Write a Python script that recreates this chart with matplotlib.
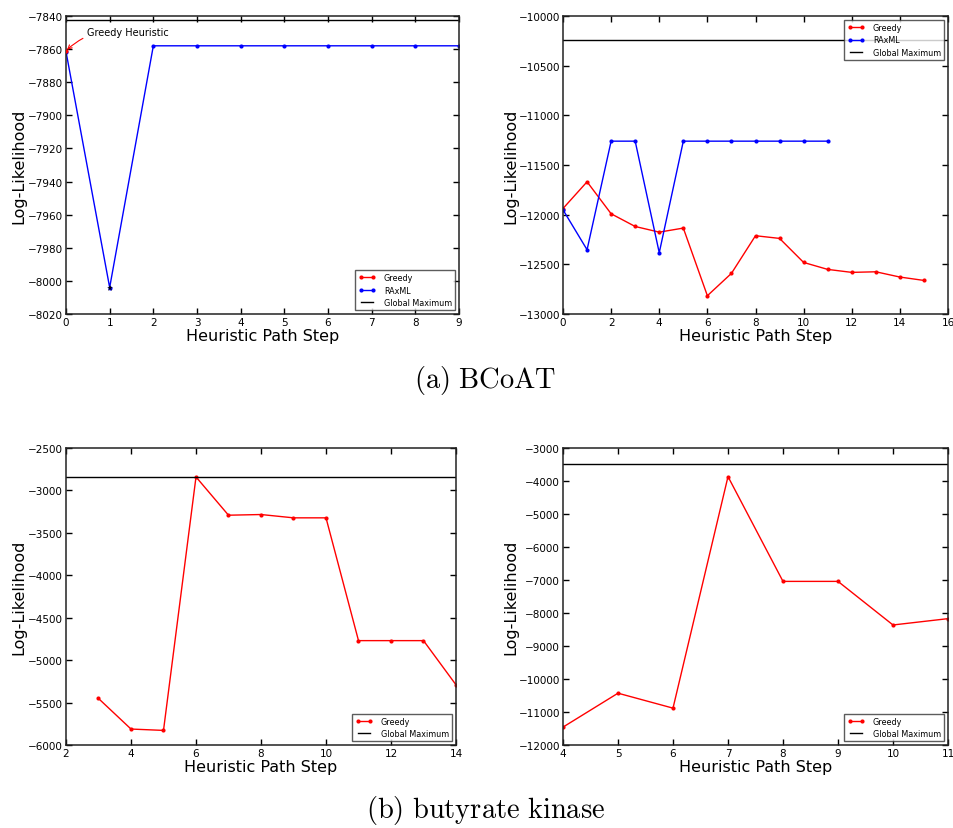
import matplotlib
matplotlib.use('Agg')
import matplotlib.pyplot as plt

plt.rcParams['mathtext.fontset'] = 'cm'
plt.rcParams['font.family'] = 'DejaVu Sans'

# BCoAT, first run
a1_greedy_x = [0]
a1_greedy_y = [-7861]
a1_raxml_x = [0, 1, 2, 3, 4, 5, 6, 7, 8, 9]
a1_raxml_y = [-7861.5, -8004, -7858, -7858, -7858, -7858, -7858, -7858, -7858, -7858]
a1_best = -7842.6
a1_star = (1, -8004)

# BCoAT, second run
a2_greedy_x = list(range(16))
a2_greedy_y = [-11938, -11669, -11991, -12119, -12176, -12135, -12816, -12591,
               -12212, -12239, -12481, -12551, -12581, -12575, -12628, -12662]
a2_raxml_x = list(range(12))
a2_raxml_y = [-11951, -12353, -11260, -11260, -12383, -11260, -11260, -11260,
              -11260, -11260, -11260, -11260]
a2_best = -10245

# butyrate kinase, first run
b1_greedy_x = [3, 4, 5, 6, 7, 8, 9, 10, 11, 12, 13, 14]
b1_greedy_y = [-5452, -5812, -5828, -2841, -3292, -3284, -3323, -3323,
               -4770, -4770, -4770, -5291]
b1_best = -2841

# butyrate kinase, second run
b2_greedy_x = [4, 5, 6, 7, 8, 9, 10, 11]
b2_greedy_y = [-11458, -10430, -10883, -3867, -7042, -7042, -8363, -8171]
b2_best = -3494

W, H = 954, 829
fig = plt.figure(figsize=(W / 100, H / 100), dpi=100)


def box(l, t, r, b):
    return [l / W, 1 - b / H, (r - l) / W, (b - t) / H]


def style(ax, xlim, ylim, xticks, yticks, label_x):
    ax.set_xlim(*xlim)
    ax.set_ylim(*ylim)
    ax.set_xticks(xticks)
    ax.set_yticks(yticks)
    ax.tick_params(direction='in', top=True, right=True, length=4, width=1,
                   labelsize=7.5, pad=2)
    ax.set_yticklabels([f'\u2212{abs(v)}' for v in yticks])
    for s in ax.spines.values():
        s.set_linewidth(1.1)
        s.set_color('#222222')
    ax.set_xlabel('Heuristic Path Step', fontsize=11.5, labelpad=1)
    ax.set_ylabel('Log-Likelihood', fontsize=11.5)
    ax.yaxis.set_label_coords(label_x, 0.5)


def legend(ax, loc, handles=None, labels=None):
    if handles is None:
        handles, labels = ax.get_legend_handles_labels()
    leg = ax.legend(handles, labels, loc=loc, fontsize=5.8, numpoints=2,
                    fancybox=False, handlelength=2.2, borderpad=0.35,
                    labelspacing=0.45, borderaxespad=0.5, handletextpad=1.0)
    leg.get_frame().set_edgecolor('#333333')
    leg.get_frame().set_linewidth(1.0)


lw = 1.0
ms = 3

# (a) left
ax = fig.add_axes(box(66, 17, 459, 315))
best_line = ax.axhline(a1_best, color='k', lw=lw, zorder=1)
g_line, = ax.plot(a1_greedy_x, a1_greedy_y, 'r-o', lw=lw, ms=ms, mew=0, zorder=3)
r_line, = ax.plot(a1_raxml_x, a1_raxml_y, 'b-o', lw=lw, ms=ms, mew=0, zorder=2)
ax.plot([a1_star[0]], [a1_star[1]], 'k*', ms=5, mew=0, zorder=4)
ax.annotate('Greedy Heuristic', xy=(0, a1_greedy_y[0]), xytext=(0.48, -7849.5),
            fontsize=7, va='center', ha='left',
            arrowprops=dict(arrowstyle='->', color='r', lw=0.8,
                            shrinkA=1, shrinkB=1,
                            connectionstyle='arc3,rad=0.25'))
style(ax, (0, 9), (-8020, -7840), range(10), list(range(-8020, -7839, 20)), -0.102)
legend(ax, 'lower right', [g_line, r_line, best_line],
       ['Greedy', 'RAxML', 'Global Maximum'])

# (a) right
ax = fig.add_axes(box(563, 17, 948, 315))
ax.plot(a2_greedy_x, a2_greedy_y, 'r-o', lw=lw, ms=ms, mew=0, label='Greedy')
ax.plot(a2_raxml_x, a2_raxml_y, 'b-o', lw=lw, ms=ms, mew=0, label='RAxML')
ax.axhline(a2_best, color='k', lw=lw, label='Global Maximum')
style(ax, (0, 16), (-13000, -10000), range(0, 17, 2),
      list(range(-13000, -9999, 500)), -0.117)
legend(ax, 'upper right')

# (b) left
ax = fig.add_axes(box(66, 449, 456, 746))
ax.plot(b1_greedy_x, b1_greedy_y, 'r-o', lw=lw, ms=ms, mew=0, label='Greedy')
ax.axhline(b1_best, color='k', lw=lw, label='Global Maximum')
style(ax, (2, 14), (-6000, -2500), range(2, 15, 2),
      list(range(-6000, -2499, 500)), -0.102)
legend(ax, 'lower right')

# (b) right
ax = fig.add_axes(box(563, 449, 948, 746))
ax.plot(b2_greedy_x, b2_greedy_y, 'r-o', lw=lw, ms=ms, mew=0, label='Greedy')
ax.axhline(b2_best, color='k', lw=lw, label='Global Maximum')
style(ax, (4, 11), (-12000, -3000), range(4, 12),
      list(range(-12000, -2999, 1000)), -0.117)
legend(ax, 'lower right')

fig.text(485 / W, 1 - 381 / H, r'$\mathrm{(a)\ BCoAT}$', fontsize=20.5,
         ha='center', va='center')
fig.text(486 / W, 1 - 827 / H, r'$\mathrm{(b)\ butyrate\ kinase}$', fontsize=20.5,
         ha='center', va='bottom')

fig.savefig('out.png', dpi=100, facecolor='white')
